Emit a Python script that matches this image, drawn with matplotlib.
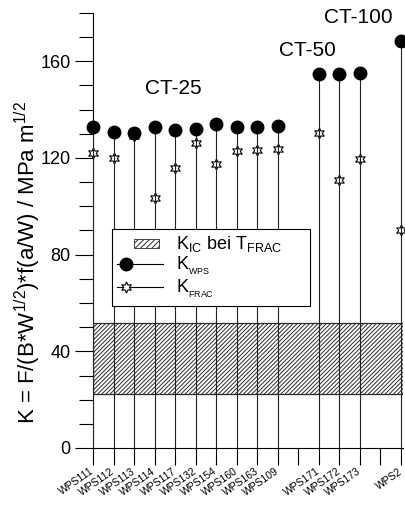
import numpy as np
import matplotlib
matplotlib.use("Agg")
import matplotlib.pyplot as plt
import matplotlib.patches as mpatches
from matplotlib.lines import Line2D
from matplotlib.legend_handler import HandlerLine2DCompound, HandlerPatch
from matplotlib.ticker import MultipleLocator

plt.rcParams['font.family'] = ['Liberation Sans', 'DejaVu Sans']
plt.rcParams['mathtext.fontset'] = 'custom'
plt.rcParams['mathtext.rm'] = 'Liberation Sans'
plt.rcParams['mathtext.it'] = 'Liberation Sans:italic'
plt.rcParams['mathtext.bf'] = 'Liberation Sans:bold'
plt.rcParams['hatch.linewidth'] = 0.7

# 1. Daten
specimens = ["WPS111", "WPS112", "WPS113", "WPS114", "WPS117", "WPS132",
             "WPS154", "WPS160", "WPS163", "WPS109",
             "WPS171", "WPS172", "WPS173", "WPS2"]
slots = [1, 2, 3, 4, 5, 6, 7, 8, 9, 10, 12, 13, 14, 16]   # Luecken bei 11 und 15
k_wps = [132.8, 130.8, 130.5, 132.8, 131.7, 132.2, 133.9, 132.8, 132.8, 133.1,
         154.9, 154.6, 155.1, 168.3]
k_frac = [122.1, 120.1, 129.0, 103.6, 116.0, 126.4, 117.7, 122.9, 123.2, 123.6,
          130.3, 110.8, 119.5, 90.1]
kic_band = (22.3, 51.7)   # K_IC bei T_FRAC
groups = ["CT-25", "CT-50", "CT-100"]
group_pos = [(4.9, 148.8), (11.46, 164.5), (13.9, 178.0)]

# 2. Abbildung
W, H = 406, 516
fig = plt.figure(figsize=(W / 100, H / 100), dpi=100)
ax = fig.add_axes([93 / W, (H - 448) / H, 310 / W, (448 - 13) / H])

ax.axhspan(*kic_band, facecolor='white', edgecolor='#2a2a2a', hatch='////////',
           lw=0.9, zorder=1)
ax.vlines(slots, 0, k_wps, color='#222222', lw=0.8, zorder=3.5)
ax.plot(slots, k_frac, ls='none', marker=(6, 1, 0), ms=8, mfc='white',
        mec='black', mew=0.8, zorder=3, clip_on=False)
ax.plot(slots, k_wps, ls='none', marker='o', ms=9, color='black', zorder=4,
        clip_on=False)

for name, (gx, gy) in zip(groups, group_pos):
    ax.text(gx, gy, name, ha='center', va='center', fontsize=15)

ax.set_xlim(1, 16.1)
ax.set_ylim(0, 180)
for s in ['top', 'right']:
    ax.spines[s].set_visible(False)
for s in ['left', 'bottom']:
    ax.spines[s].set_linewidth(0.8)

tick_labels = [''] * 16
for name, p in zip(specimens, slots):
    tick_labels[p - 1] = name
ax.set_xticks(range(1, 17))
ax.set_xticklabels(tick_labels, rotation=35, ha='right', va='center',
                   rotation_mode='anchor', fontsize=7.5)
ax.tick_params(axis='x', length=12, width=0.8, pad=4)

ax.yaxis.set_major_locator(MultipleLocator(40))
ax.yaxis.set_minor_locator(MultipleLocator(10))
ax.tick_params(axis='y', which='major', length=13, width=0.8, labelsize=13, pad=3)
ax.tick_params(axis='y', which='minor', length=10, width=0.8)

fig.text(28 / W, 1 - 262 / H, r'K = F/(B*W$^{1/2}$)*f(a/W) / MPa m$^{1/2}$',
         rotation=90, ha='center', va='center', fontsize=16)


# 3. Legende (Marker links, Linie nach rechts)
class MarkerLeft(HandlerLine2DCompound):
    def get_xdata(self, legend, xdescent, ydescent, width, height, fontsize):
        xdata = np.array([-xdescent, -xdescent + width])
        return xdata, np.array([-xdescent + 0.5 * fontsize])


def hatch_box(legend, orig_handle, xdescent, ydescent, width, height, fontsize):
    return mpatches.Rectangle((-xdescent + 0.35 * width, -ydescent + 0.1 * height),
                              0.55 * width, 0.75 * height)


h_band = mpatches.Patch(facecolor='white', edgecolor='#2a2a2a', hatch='//////', lw=0.6)
h_wps = Line2D([], [], color='black', lw=0.8, marker='o', ms=9)
h_frac = Line2D([], [], color='black', lw=0.8, marker=(6, 1, 0), ms=8,
                mfc='white', mew=0.8)
leg = ax.legend([h_band, h_wps, h_frac],
                [r'K$_{\rm IC}$ bei T$_{\rm FRAC}$', r'K$_{{}_{\rm WPS}}$',
                 r'K$_{{}_{\rm FRAC}}$'],
                handler_map={h_band: HandlerPatch(patch_func=hatch_box),
                             h_wps: MarkerLeft(), h_frac: MarkerLeft()},
                loc='upper left',
                bbox_to_anchor=(112 / W, 1 - 229 / H, (310 - 112) / W, 0),
                bbox_transform=fig.transFigure, mode='expand', borderaxespad=0,
                fontsize=13, handlelength=2.55, handletextpad=0.7,
                labelspacing=0.05, borderpad=0.3, fancybox=False,
                edgecolor='black', framealpha=1)
leg.get_frame().set_linewidth(0.8)

fig.savefig("out.png", dpi=100)
